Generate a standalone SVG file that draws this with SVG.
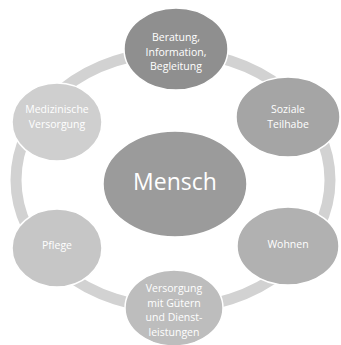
<svg xmlns="http://www.w3.org/2000/svg" width="341" height="345" viewBox="0 0 341 345">
<style>
.n{stroke:#ffffff;stroke-width:1.5}
.t{font-family:"Open Sans","DejaVu Sans",sans-serif;font-size:10.5px;fill:#ffffff;text-anchor:middle}
</style>
<rect width="341" height="345" fill="#ffffff"/>
<g id="connectors">
<ellipse cx="173" cy="180" rx="157" ry="128" fill="none" stroke="#d2d2d2" stroke-width="11"/>
</g>
<g id="mensch">
<ellipse class="n" cx="175" cy="184" rx="72" ry="53" fill="#9b9b9b"/>
<text class="t" x="175" y="190" style="font-size:23px">Mensch</text>
</g>
<g id="beratung">
<ellipse class="n" cx="176" cy="49" rx="52" ry="41" fill="#8f8f8f"/>
<text class="t" x="176" y="41">Beratung,</text>
<text class="t" x="176" y="55.5">Information,</text>
<text class="t" x="176" y="70">Begleitung</text>
</g>
<g id="soziale">
<ellipse class="n" cx="288" cy="117" rx="52" ry="40" fill="#a5a5a5"/>
<text class="t" x="288" y="113">Soziale</text>
<text class="t" x="288" y="128">Teilhabe</text>
</g>
<g id="wohnen">
<ellipse class="n" cx="288" cy="246" rx="51" ry="39" fill="#b1b1b1"/>
<text class="t" x="288" y="248">Wohnen</text>
</g>
<g id="versorgung">
<ellipse class="n" cx="174" cy="308" rx="49" ry="38" fill="#bdbdbd"/>
<text class="t" x="174" y="292">Versorgung</text>
<text class="t" x="174" y="306.5">mit Gütern</text>
<text class="t" x="174" y="321">und Dienst-</text>
<text class="t" x="174" y="335.5">leistungen</text>
</g>
<g id="pflege">
<ellipse class="n" cx="57" cy="248" rx="45" ry="39" fill="#c6c6c6"/>
<text class="t" x="57" y="249">Pflege</text>
</g>
<g id="medizinische">
<ellipse class="n" cx="57" cy="122" rx="45" ry="39" fill="#cfcfcf"/>
<text class="t" x="57" y="113">Medizinische</text>
<text class="t" x="57" y="128">Versorgung</text>
</g>
</svg>
